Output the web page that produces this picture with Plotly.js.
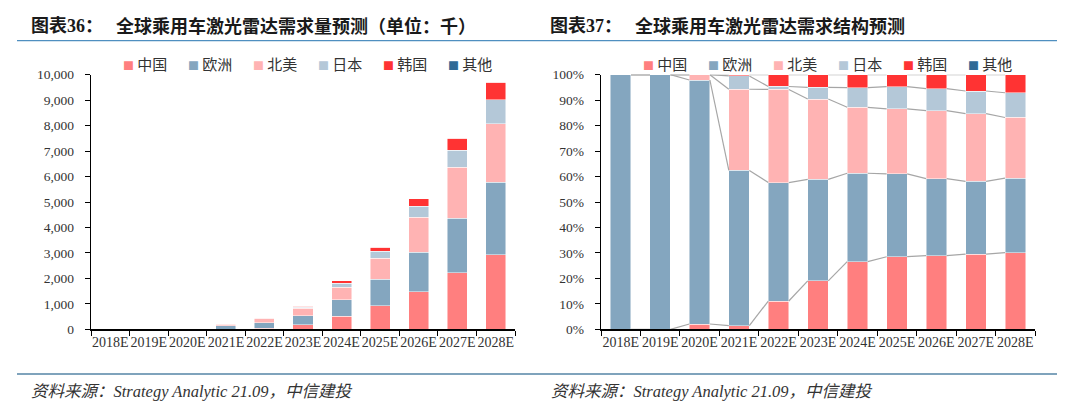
<!DOCTYPE html>
<html>
<head>
<meta charset="utf-8">
<script src="https://cdn.plot.ly/plotly-3.0.1.min.js"></script>
<style>html,body{margin:0;padding:0;background:#fff;}#chart{width:1080px;height:415px;}</style>
</head>
<body>
<div id="chart"></div>
<script>
// ---- data (thousand units) ----
const categories = ['2018E','2019E','2020E','2021E','2022E','2023E','2024E','2025E','2026E','2027E','2028E'];
const seriesNames = ['中国','欧洲','北美','日本','韩国','其他'];
const china        = [0, 0, 1,   3,  48, 173, 505,  918, 1480, 2215, 2923];
const europe       = [5, 8, 46, 128, 201, 363, 659, 1047, 1551, 2148, 2845];
const northAmerica = [0, 0, 1,  67, 158, 287, 492,  824, 1367, 1998, 2311];
const japan        = [0, 0, 0,  11,   5,  42, 146,  280,  440,  668,  942];
const korea        = [0, 0, 0,   1,  20,  45,  97,  151,  282,  481,  689];
const others       = [0, 0, 0,   0,   0,   0,   0,    0,    0,    0,    0];
const seriesColors = ['#FF7F7F','#84A6BF','#FFB3B3','#B4C8D8','#FF3333','#2E6A96'];
const leftYTicks = [0,1000,2000,3000,4000,5000,6000,7000,8000,9000,10000];
const rightYTicks = [0,10,20,30,40,50,60,70,80,90,100];

const seriesValues = [china, europe, northAmerica, japan, korea, others];
const W = 1080, H = 415;
const BAR_W = 0.52;

// totals & shares for the structure chart
const totals = categories.map((c, i) => seriesValues.reduce((s, arr) => s + arr[i], 0));
const shares = seriesValues.map(arr => arr.map((v, i) => totals[i] ? v / totals[i] * 100 : 0));

const traces = [];
seriesValues.forEach((arr, k) => {
  traces.push({
    type: 'bar', x: categories, y: arr, name: seriesNames[k], width: BAR_W,
    marker: {color: seriesColors[k], line: {color: 'rgba(255,255,255,0.8)', width: 0.6}},
    xaxis: 'x', yaxis: 'y', showlegend: false, hoverinfo: 'skip'
  });
});
shares.forEach((arr, k) => {
  traces.push({
    type: 'bar', x: categories, y: arr, name: seriesNames[k], width: BAR_W,
    marker: {color: seriesColors[k], line: {color: 'rgba(255,255,255,0.8)', width: 0.6}},
    xaxis: 'x2', yaxis: 'y2', showlegend: false, hoverinfo: 'skip'
  });
});
// series connector lines (cumulative top of each series)
const cum = [];
let running = categories.map(() => 0);
shares.forEach((arr) => {
  running = running.map((r, i) => r + arr[i]);
  cum.push(running.slice());
});
cum.slice(0, 5).forEach((c) => {
  const lx = [], ly = [];
  for (let i = 0; i < categories.length - 1; i++) {
    lx.push(i + BAR_W / 2, i + 1 - BAR_W / 2, null);
    ly.push(c[i], c[i + 1], null);
  }
  traces.push({
    type: 'scatter', mode: 'lines', x: lx, y: ly, xaxis: 'x3', yaxis: 'y2',
    line: {color: '#A6A6A6', width: 1.2}, showlegend: false, hoverinfo: 'skip',
    cliponaxis: false, connectgaps: false
  });
});

const yDom = [(H - 329.3) / H, (H - 74.7) / H];
const xTickFont = {family: 'Liberation Serif, Times New Roman, serif', size: 14, color: '#333'};
const yTickFont = {family: 'Liberation Serif, Times New Roman, serif', size: 13.5, color: '#333'};
const xCommon = {
  type: 'category', tickson: 'boundaries', ticks: 'outside', ticklen: 5, tickwidth: 1,
  tickcolor: '#000', showline: true, linecolor: '#000', linewidth: 1.3, showgrid: false,
  zeroline: false, tickfont: xTickFont, tickangle: 0, range: [-0.5, categories.length - 0.5], fixedrange: true
};
const yCommon = {
  ticks: 'outside', ticklen: 5, tickwidth: 1, tickcolor: '#000', showline: true,
  linecolor: '#000', linewidth: 1.3, showgrid: false, zeroline: false, tickfont: yTickFont,
  ticklabelstandoff: 8, fixedrange: true
};

const annotations = [];
const titleFont = {family: 'Liberation Serif, Noto Sans CJK SC', size: 18, color: '#1a1a1a', weight: 'bold'};
function addTitle(x, label, text) {
  annotations.push({xref: 'paper', yref: 'paper', x: x / W, y: 1 - 26 / H, xanchor: 'left', yanchor: 'middle',
    text: '<b>' + label + '</b>', showarrow: false, font: titleFont});
  annotations.push({xref: 'paper', yref: 'paper', x: (x + 85) / W, y: 1 - 26 / H, xanchor: 'left', yanchor: 'middle',
    text: '<b>' + text + '</b>', showarrow: false, font: titleFont});
}
addTitle(29, '图表36：', '全球乘用车激光雷达需求量预测（单位：千）');
addTitle(548, '图表37：', '全球乘用车激光雷达需求结构预测');

function addLegend(x0) {
  seriesNames.forEach((n, k) => {
    annotations.push({xref: 'paper', yref: 'paper', x: (x0 + k * 65) / W, y: 1 - 64 / H,
      xanchor: 'left', yanchor: 'middle', showarrow: false,
      text: '<span style="color:' + seriesColors[k] + ';font-size:11px">■</span> ' + n,
      font: {family: 'Noto Sans CJK SC', size: 15, color: '#333'}});
  });
}
addLegend(121);
addLegend(641);

const srcText = '资料来源：Strategy Analytic 21.09，中信建投';
[29, 549].forEach(x => {
  annotations.push({xref: 'paper', yref: 'paper', x: x / W, y: 1 - 391 / H, xanchor: 'left', yanchor: 'middle',
    showarrow: false, text: '<i>' + srcText + '</i>',
    font: {family: 'Liberation Serif, Noto Sans CJK SC', size: 16.5, color: '#333', style: 'italic'}});
});

const layout = {
  width: W, height: H, margin: {l: 0, r: 0, t: 0, b: 0},
  paper_bgcolor: '#fff', plot_bgcolor: '#fff',
  barmode: 'stack', showlegend: false,
  xaxis: Object.assign({}, xCommon, {domain: [91 / W, 515 / W], anchor: 'y'}),
  yaxis: Object.assign({}, yCommon, {domain: yDom, anchor: 'x', range: [0, 10000],
    tickmode: 'array', tickvals: leftYTicks, ticktext: leftYTicks.map(v => v.toLocaleString('en-US'))}),
  xaxis2: Object.assign({}, xCommon, {domain: [601 / W, 1035 / W], anchor: 'y2'}),
  yaxis2: Object.assign({}, yCommon, {domain: yDom, anchor: 'x2', range: [0, 100],
    tickmode: 'array', tickvals: rightYTicks, ticktext: rightYTicks.map(v => v + '%')}),
  xaxis3: {overlaying: 'x2', anchor: 'y2', range: [-0.5, categories.length - 0.5], visible: false, fixedrange: true},
  annotations: annotations,
  shapes: [
    {type: 'line', xref: 'paper', yref: 'paper', x0: 17 / W, x1: 1057 / W, y0: 1 - 40.7 / H, y1: 1 - 40.7 / H,
      line: {color: '#4F8FC0', width: 1.3}},
    {type: 'line', xref: 'paper', yref: 'paper', x0: 17 / W, x1: 1057 / W, y0: 1 - 374 / H, y1: 1 - 374 / H,
      line: {color: '#7FA3BC', width: 1.8}}
  ]
};

Plotly.newPlot('chart', traces, layout, {staticPlot: true, displayModeBar: false});
</script>
</body>
</html>
